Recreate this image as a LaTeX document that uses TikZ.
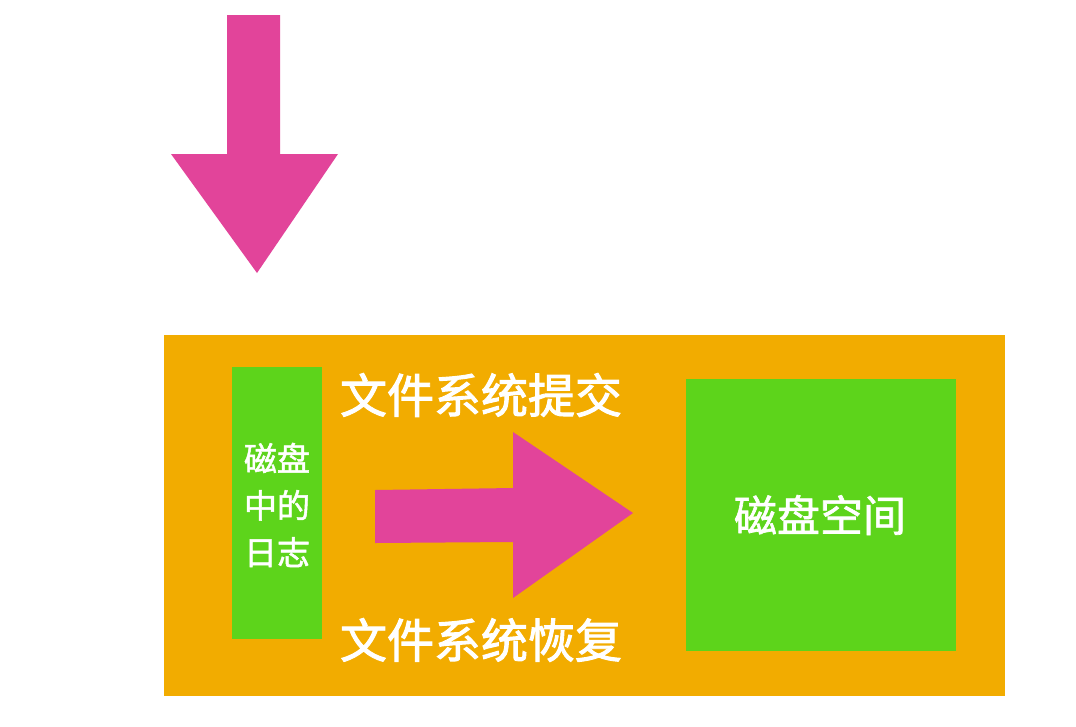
\documentclass[tikz,border=0pt]{standalone}
\usepackage{fontspec}
\newfontfamily\cjk[FakeBold=2]{Noto Sans CJK SC}
\newfontfamily\cjkm[FakeBold=1.5]{Noto Sans CJK SC}
\definecolor{boxorange}{HTML}{F2AC00}
\definecolor{boxgreen}{HTML}{5DD41B}
\definecolor{arrowpink}{HTML}{E2449A}
\begin{document}
\begin{tikzpicture}[x=1pt,y=-1pt,
  lbl/.style={text=white,font=\cjk\fontsize{47}{50}\selectfont,inner sep=0pt},
  arrowfill/.style={fill=arrowpink,draw=none}]
\useasboundingbox (0,0) rectangle (1076,726);
\fill[white] (0,0) rectangle (1076,726);
% down arrow
\fill[arrowpink] (227,15) -- (280,15) -- (280,154) -- (338,154) -- (257,273) -- (171,154) -- (227,154) -- cycle;
% orange frame
\node[fill=boxorange,minimum width=841pt,minimum height=361pt,inner sep=0pt,anchor=north west] (frame) at (164,335) {};
% left log box
\node[fill=boxgreen,minimum width=90pt,minimum height=272pt,inner sep=0pt,anchor=north west] (log) at (232,367) {};
\node[text=white,font=\cjkm\fontsize{33}{47}\selectfont,align=center,inner sep=0pt] (logtxt) at (277,505) {磁盘\\中的\\日志};
% right disk box
\node[fill=boxgreen,minimum width=270pt,minimum height=272pt,inner sep=0pt,anchor=north west] (disk) at (686,379) {};
\node[text=white,font=\cjkm\fontsize{43}{46}\selectfont,inner sep=0pt] (disktxt) at (820,515) {磁盘空间};
% right arrow
\fill[arrowpink] (375,490) -- (513,488) -- (513,432) -- (633,513) -- (513,598) -- (513,542) -- (375,543) -- cycle;
% labels
\node[lbl] (commit) at (481,395) {文件系统提交};
\node[lbl] (recover) at (481,640) {文件系统恢复};
\end{tikzpicture}
\end{document}
